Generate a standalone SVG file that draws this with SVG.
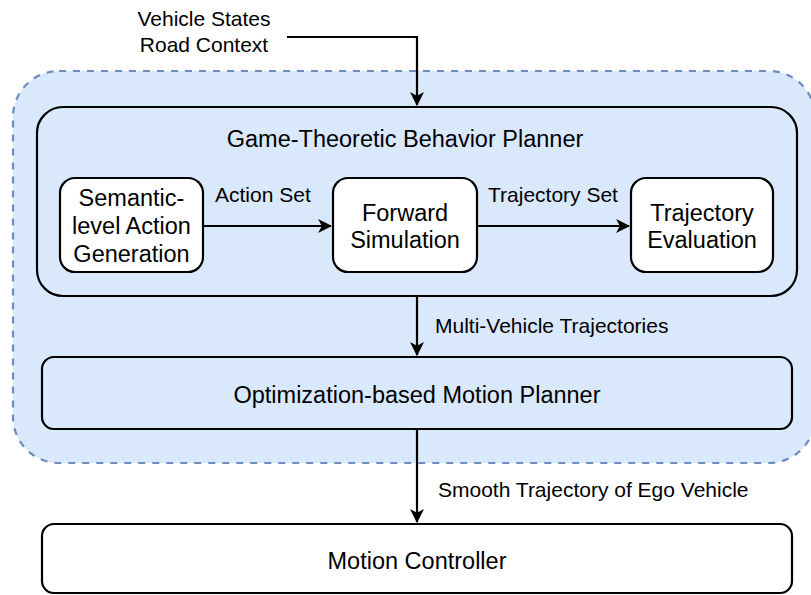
<svg xmlns="http://www.w3.org/2000/svg" width="811" height="595" viewBox="0 0 811 595">
<defs>
<style>
.box{stroke:#000;stroke-width:2.2;}
.blue{fill:#dae8fc;}
.white{fill:#fff;}
.t{font-family:"Liberation Sans",Arial,sans-serif;font-size:23.5px;fill:#000;text-anchor:middle;}
.l{font-family:"Liberation Sans",Arial,sans-serif;font-size:21px;fill:#000;}
.edge{fill:none;stroke:#000;stroke-width:2.2;}
</style>
<marker id="arr" markerUnits="userSpaceOnUse" markerWidth="14" markerHeight="14" viewBox="0 0 13 13" refX="12" refY="6.5" orient="auto">
<path d="M0,0 L13,6.5 L0,13 L3.5,6.5 Z" fill="#000"/>
</marker>
</defs>
<g id="container">
<rect x="13" y="71" width="802" height="392" rx="46" ry="46" fill="#dae8fc" stroke="#6c8ebf" stroke-width="2.2" stroke-dasharray="7 7"/>
</g>
<g id="input-label">
<text class="l" x="204" y="26" text-anchor="middle">Vehicle States</text>
<text class="l" x="204" y="52" text-anchor="middle">Road Context</text>
</g>
<g id="game-planner">
<rect class="box blue" x="37" y="107" width="760" height="189" rx="26" ry="26"/>
<text class="t" x="405" y="147">Game-Theoretic Behavior Planner</text>
</g>
<g id="semantic">
<rect class="box white" x="60" y="178" width="143" height="94" rx="15" ry="15"/>
<text class="t" x="131.5" y="206">Semantic-</text>
<text class="t" x="131.5" y="234">level Action</text>
<text class="t" x="131.5" y="262">Generation</text>
</g>
<g id="forward">
<rect class="box white" x="333" y="178" width="144" height="94" rx="15" ry="15"/>
<text class="t" x="405" y="221">Forward</text>
<text class="t" x="405" y="248">Simulation</text>
</g>
<g id="evaluation">
<rect class="box white" x="631" y="178" width="142" height="94" rx="15" ry="15"/>
<text class="t" x="702" y="221">Trajectory</text>
<text class="t" x="702" y="248">Evaluation</text>
</g>
<g id="motion-planner">
<rect class="box blue" x="42" y="357" width="750" height="72" rx="12" ry="12"/>
<text class="t" x="417" y="403">Optimization-based Motion Planner</text>
</g>
<g id="controller">
<rect class="box white" x="42" y="524" width="750" height="69" rx="12" ry="12"/>
<text class="t" x="417" y="569">Motion Controller</text>
</g>
<g id="connectors">
<path class="edge" d="M287,37 H417 V105" marker-end="url(#arr)"/>
<path class="edge" d="M203,226 H331" marker-end="url(#arr)"/>
<path class="edge" d="M477,226 H629" marker-end="url(#arr)"/>
<path class="edge" d="M417,296 V355" marker-end="url(#arr)"/>
<path class="edge" d="M417,429 V522" marker-end="url(#arr)"/>
<text class="l" x="215" y="202">Action Set</text>
<text class="l" x="488" y="202">Trajectory Set</text>
<text class="l" x="435" y="333">Multi-Vehicle Trajectories</text>
<text class="l" x="438" y="497">Smooth Trajectory of Ego Vehicle</text>
</g>
</svg>
